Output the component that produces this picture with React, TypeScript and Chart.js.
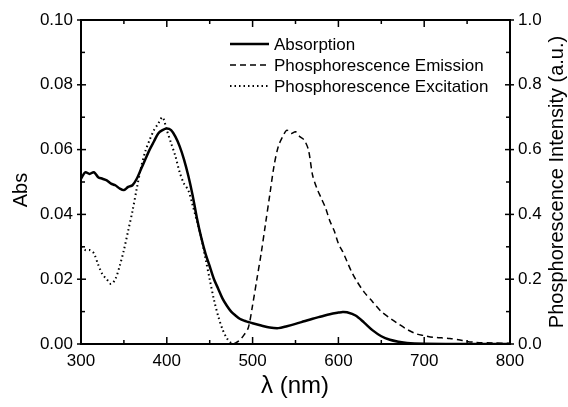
import React, { useEffect, useRef } from 'react';
import { Chart, registerables } from 'chart.js';
Chart.register(...registerables);

const FONT = '"Liberation Sans", Arial, Helvetica, sans-serif';

const absWl = [300, 305, 310, 315, 320, 325, 330, 335, 340, 345, 350, 355, 360, 365, 370, 375, 380, 385, 390, 395, 400, 405, 410, 415, 420, 425, 430, 435, 440, 445, 450, 455, 460, 465, 470, 475, 480, 485, 490, 495, 500, 510, 520, 530, 540, 550, 560, 570, 580, 590, 600, 605, 610, 620, 630, 640, 650, 660, 670, 680, 700, 750, 800];
const absVal = [0.051, 0.053, 0.0525, 0.053, 0.0515, 0.051, 0.0505, 0.0495, 0.049, 0.048, 0.0475, 0.0485, 0.049, 0.051, 0.054, 0.057, 0.060, 0.0625, 0.065, 0.066, 0.0665, 0.066, 0.064, 0.061, 0.057, 0.052, 0.046, 0.039, 0.033, 0.028, 0.024, 0.020, 0.017, 0.014, 0.0118, 0.010, 0.0088, 0.0078, 0.0072, 0.0068, 0.0064, 0.0057, 0.0051, 0.0049, 0.0055, 0.0062, 0.0070, 0.0078, 0.0085, 0.0092, 0.0097, 0.0099, 0.0098, 0.0088, 0.0066, 0.0042, 0.0024, 0.0013, 0.0007, 0.0003, 0.0001, 0, 0];

const emWl = [478, 485, 490, 495, 500, 505, 510, 515, 520, 525, 530, 535, 540, 545, 550, 555, 560, 565, 570, 575, 580, 585, 590, 595, 600, 605, 610, 615, 620, 630, 640, 650, 660, 670, 680, 690, 700, 710, 720, 730, 740, 750, 760, 780, 800];
const emVal = [0, 0.012, 0.028, 0.05, 0.12, 0.20, 0.28, 0.37, 0.46, 0.55, 0.61, 0.64, 0.66, 0.65, 0.655, 0.64, 0.63, 0.60, 0.52, 0.48, 0.45, 0.42, 0.38, 0.35, 0.31, 0.285, 0.255, 0.225, 0.20, 0.16, 0.13, 0.10, 0.08, 0.062, 0.045, 0.032, 0.026, 0.021, 0.019, 0.017, 0.013, 0.008, 0.005, 0.003, 0.002];

const exWl = [300, 305, 310, 315, 320, 325, 330, 335, 340, 345, 350, 355, 360, 365, 370, 375, 380, 385, 390, 395, 400, 405, 410, 415, 420, 425, 430, 435, 440, 445, 450, 455, 460, 465, 470, 475, 480];
const exVal = [0.30, 0.29, 0.29, 0.28, 0.245, 0.215, 0.20, 0.185, 0.20, 0.24, 0.29, 0.35, 0.41, 0.48, 0.545, 0.595, 0.63, 0.66, 0.68, 0.70, 0.66, 0.62, 0.58, 0.53, 0.495, 0.475, 0.43, 0.38, 0.33, 0.265, 0.20, 0.136, 0.085, 0.045, 0.018, 0.003, 0];

const seriesLabels = ['Absorption', 'Phosphorescence Emission', 'Phosphorescence Excitation'];
const xMajorTicks = [300, 400, 500, 600, 700, 800];
const xMinorTicks = [350, 450, 550, 650, 750];
const yMajorTicks = [0, 0.02, 0.04, 0.06, 0.08, 0.1];
const yMinorTicks = [0.01, 0.03, 0.05, 0.07, 0.09];
const y2MajorTicks = [0, 0.2, 0.4, 0.6, 0.8, 1.0];
const y2MinorTicks = [0.1, 0.3, 0.5, 0.7, 0.9];

const dashes = [[], [6, 4], [1.5, 3]];
const widths = [2.5, 1.5, 2];

const framePlugin = {
  id: 'frame',
  afterDraw(chart: any) {
    const { ctx, chartArea: a, scales } = chart;
    const sx = scales.x, sy = scales.y, sy2 = scales.y2;
    ctx.save();
    ctx.strokeStyle = '#000';
    ctx.lineWidth = 2;
    ctx.setLineDash([]);
    ctx.strokeRect(a.left, a.top, a.right - a.left, a.bottom - a.top);
    ctx.lineWidth = 1.5;
    const line = (x1: number, y1: number, x2: number, y2: number) => {
      ctx.beginPath(); ctx.moveTo(x1, y1); ctx.lineTo(x2, y2); ctx.stroke();
    };
    xMajorTicks.forEach(v => { const p = sx.getPixelForValue(v); line(p, a.bottom, p, a.bottom - 7); line(p, a.top, p, a.top + 7); });
    xMinorTicks.forEach(v => { const p = sx.getPixelForValue(v); line(p, a.bottom, p, a.bottom - 4); line(p, a.top, p, a.top + 4); });
    yMajorTicks.forEach(v => { const p = sy.getPixelForValue(v); line(a.left - 4, p, a.left + 5, p); });
    yMinorTicks.forEach(v => { const p = sy.getPixelForValue(v); line(a.left, p, a.left + 4, p); });
    y2MajorTicks.forEach(v => { const p = sy2.getPixelForValue(v); line(a.right + 4, p, a.right - 5, p); });
    y2MinorTicks.forEach(v => { const p = sy2.getPixelForValue(v); line(a.right, p, a.right - 4, p); });

    // legend
    ctx.font = `17px ${FONT}`;
    ctx.fillStyle = '#000';
    ctx.textBaseline = 'middle';
    ctx.textAlign = 'left';
    seriesLabels.forEach((lab, i) => {
      const y = 44 + i * 21;
      ctx.lineWidth = widths[i];
      ctx.setLineDash(dashes[i]);
      line(230, y, 269, y);
      ctx.setLineDash([]);
      ctx.fillText(lab, 274, y + 1);
    });

    // axis titles
    ctx.textAlign = 'center';
    ctx.font = `24px ${FONT}`;
    ctx.fillText('λ (nm)', 295, 386);
    ctx.font = `20px ${FONT}`;
    ctx.save();
    ctx.translate(21, 190);
    ctx.rotate(-Math.PI / 2);
    ctx.fillText('Abs', 0, 0);
    ctx.restore();
    ctx.save();
    ctx.translate(557, 182);
    ctx.rotate(-Math.PI / 2);
    ctx.fillText('Phosphorescence Intensity (a.u.)', 0, 0);
    ctx.restore();
    ctx.restore();
  },
};

export default function App() {
  const ref = useRef<HTMLCanvasElement>(null);
  useEffect(() => {
    document.body.style.margin = '0';
    const toPts = (xs: number[], ys: number[]) => xs.map((x, i) => ({ x, y: ys[i] }));
    const chart = new Chart(ref.current!, {
      type: 'line',
      data: {
        datasets: [
          { label: seriesLabels[0], data: toPts(absWl, absVal), yAxisID: 'y', borderColor: '#000', borderWidth: widths[0], pointRadius: 0, tension: 0.3, borderDash: dashes[0] },
          { label: seriesLabels[1], data: toPts(emWl, emVal), yAxisID: 'y2', borderColor: '#000', borderWidth: widths[1], pointRadius: 0, tension: 0.3, borderDash: dashes[1] },
          { label: seriesLabels[2], data: toPts(exWl, exVal), yAxisID: 'y2', borderColor: '#000', borderWidth: widths[2], pointRadius: 0, tension: 0.3, borderDash: dashes[2] },
        ],
      } as any,
      options: {
        responsive: false,
        animation: false,
        layout: { padding: { top: 20, left: 0, right: 0, bottom: 0 } },
        plugins: { legend: { display: false }, tooltip: { enabled: false }, title: { display: false } },
        scales: {
          x: {
            type: 'linear', min: 300, max: 800, position: 'bottom',
            grid: { display: false, drawTicks: false }, border: { display: false },
            ticks: { stepSize: 100, color: '#000', font: { family: FONT, size: 17 }, padding: 7, maxRotation: 0 },
            afterFit: (s: any) => { s.height = 63; },
          },
          y: {
            type: 'linear', min: 0, max: 0.1, position: 'left',
            grid: { display: false, drawTicks: false }, border: { display: false },
            ticks: { stepSize: 0.02, color: '#000', font: { family: FONT, size: 17 }, padding: 8, callback: (v: any) => Number(v).toFixed(2) },
            afterFit: (s: any) => { s.width = 81; },
          },
          y2: {
            type: 'linear', min: 0, max: 1, position: 'right',
            grid: { display: false, drawTicks: false }, border: { display: false },
            ticks: { stepSize: 0.2, color: '#000', font: { family: FONT, size: 17 }, padding: 8, callback: (v: any) => Number(v).toFixed(1) },
            afterFit: (s: any) => { s.width = 58; },
          },
        },
      } as any,
      plugins: [framePlugin],
    });
    return () => chart.destroy();
  }, []);
  return (
    <div style={{ width: 568, height: 407 }}>
      <canvas ref={ref} width={568} height={407} />
    </div>
  );
}
